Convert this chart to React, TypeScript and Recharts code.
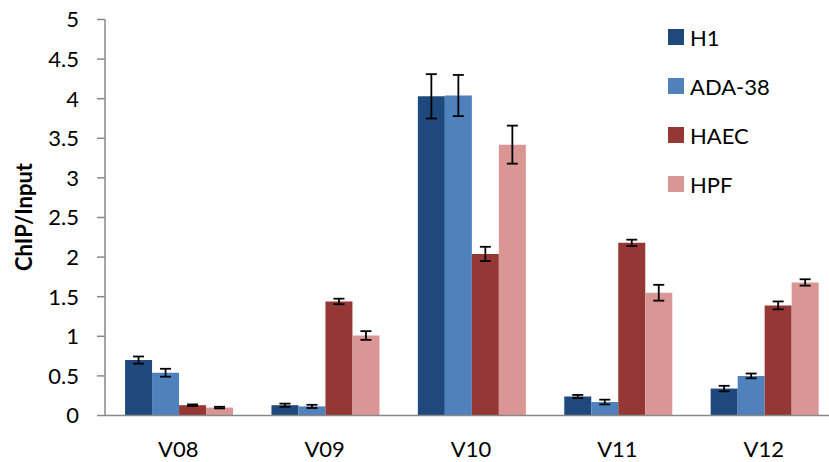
import React from "react"
import { BarChart, Bar, XAxis, YAxis, ErrorBar } from "recharts"

const categories = ["V08", "V09", "V10", "V11", "V12"]
const seriesNames = ["H1", "ADA-38", "HAEC", "HPF"]

const h1 = [0.7, 0.13, 4.03, 0.24, 0.34]
const h1Err = [0.045, 0.02, 0.28, 0.02, 0.035]
const ada = [0.54, 0.115, 4.04, 0.17, 0.5]
const adaErr = [0.05, 0.02, 0.26, 0.03, 0.03]
const haec = [0.13, 1.44, 2.04, 2.18, 1.39]
const haecErr = [0.01, 0.035, 0.09, 0.04, 0.05]
const hpf = [0.1, 1.01, 3.42, 1.55, 1.68]
const hpfErr = [0.01, 0.055, 0.24, 0.1, 0.04]

const yTicks = [0, 0.5, 1, 1.5, 2, 2.5, 3, 3.5, 4, 4.5, 5]

const COLORS = ["#1F497D", "#4F81BD", "#953735", "#D99694"]
const FONT = "Lato, Calibri, sans-serif"
const AXIS = "#888888"

const data = categories.map((name, i) => ({
  name,
  h1: h1[i],
  h1Err: h1Err[i],
  ada: ada[i],
  adaErr: adaErr[i],
  haec: haec[i],
  haecErr: haecErr[i],
  hpf: hpf[i],
  hpfErr: hpfErr[i],
}))

const keys = ["h1", "ada", "haec", "hpf"]

// legend sits inside the plot, top right, so draw it as a plain overlay
function LegendBox() {
  return (
    <div
      style={{
        position: "absolute",
        left: 668,
        top: 12.5,
        fontFamily: FONT,
        fontSize: 22,
        color: "#000",
      }}
    >
      {seriesNames.map((s, i) => (
        <div
          key={s}
          style={{ display: "flex", alignItems: "center", height: 49 }}
        >
          <span
            style={{
              display: "inline-block",
              width: 16,
              height: 16,
              background: COLORS[i],
              marginRight: 6,
            }}
          />
          <span>{s}</span>
        </div>
      ))}
    </div>
  )
}

export default function App() {
  return (
    <div
      style={{
        position: "absolute",
        left: 0,
        top: 0,
        width: 829,
        height: 462,
        overflow: "hidden",
        background: "#fff",
      }}
    >
      <BarChart
        width={840}
        height={462}
        data={data}
        margin={{ top: 19.5, right: 3, left: 0, bottom: 0 }}
        barCategoryGap="13.7%"
        barGap={0}
      >
        <XAxis
          dataKey="name"
          height={46.5}
          tickLine={false}
          tickSize={0}
          tickMargin={26}
          axisLine={{ stroke: AXIS, strokeWidth: 1.5 }}
          tick={{ fill: "#000", fontSize: 22, fontFamily: FONT }}
        />
        <YAxis
          width={105}
          domain={[0, 5]}
          ticks={yTicks}
          interval={0}
          tickSize={8}
          tickMargin={18}
          axisLine={{ stroke: AXIS, strokeWidth: 1.5 }}
          tickLine={{ stroke: AXIS, strokeWidth: 1.5 }}
          tick={{ fill: "#000", fontSize: 22, fontFamily: FONT }}
          label={{
            content: () => (
              <text
                x={23}
                y={217}
                transform="rotate(-90 23 217)"
                textAnchor="middle"
                dominantBaseline="central"
                style={{ fontFamily: FONT, fontSize: 22, fontWeight: 700 }}
                fill="#000"
              >
                ChIP/Input
              </text>
            ),
          }}
        />
        {keys.map((k, i) => (
          <Bar
            key={k}
            dataKey={k}
            name={seriesNames[i]}
            fill={COLORS[i]}
            isAnimationActive={false}
          >
            <ErrorBar
              dataKey={k + "Err"}
              width={5.5}
              stroke="#000"
              strokeWidth={1.8}
              isAnimationActive={false}
            />
          </Bar>
        ))}
      </BarChart>
      <LegendBox />
    </div>
  )
}
